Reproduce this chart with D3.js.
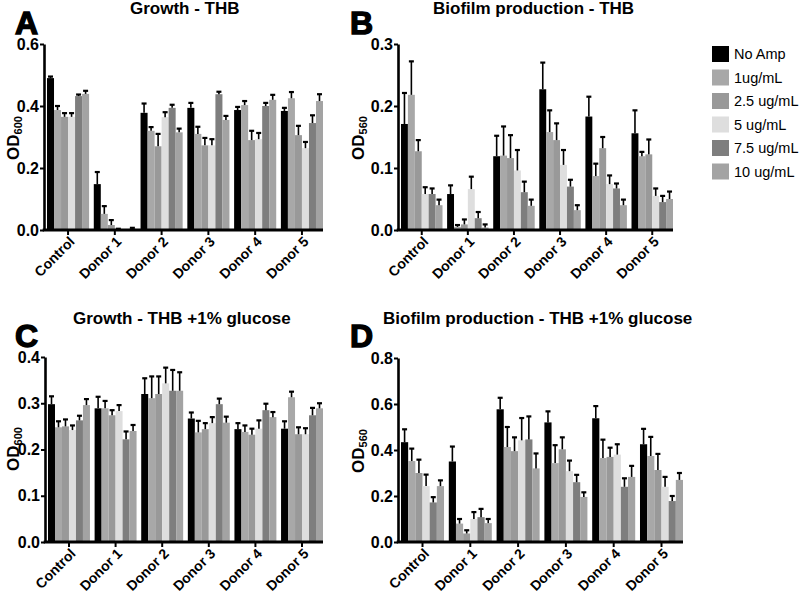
<!DOCTYPE html>
<html lang="en">
<head>
  <meta charset="UTF-8">
  <title>Growth and biofilm - THB</title>
  <script src="https://d3js.org/d3.v7.min.js"></script>
  <style>
    body { margin: 0; background: #fff; }
    svg { display: block; font-family: "Liberation Sans", Arial, sans-serif; }
    .axis path, .axis line { stroke: #000; }
    .axis text { font-size: 16px; font-weight: bold; fill: #000; }
    .title { font-size: 17px; font-weight: bold; }
    .letter { font-size: 32px; font-weight: bold; stroke: #000; stroke-width: 1.4px; }
    .legend text { font-size: 14.5px; }
  </style>
</head>
<body>
<div id="chart"></div>
<script>
const groups = ['Control', 'Donor 1', 'Donor 2', 'Donor 3', 'Donor 4', 'Donor 5'];
const doses = ['No Amp', '1ug/mL', '2.5 ug/mL', '5 ug/mL', '7.5 ug/mL', '10 ug/mL'];
const doseColors = ['#000000', '#a8a8a8', '#999999', '#dedede', '#7e7e7e', '#a3a3a3'];

// rows = groups, columns = doses
const growthTHB = [
  [0.490, 0.387, 0.365, 0.365, 0.432, 0.439],
  [0.148, 0.052, 0.016, 0.002, 0.001, 0.004],
  [0.378, 0.320, 0.270, 0.364, 0.394, 0.315],
  [0.394, 0.310, 0.273, 0.273, 0.438, 0.355],
  [0.387, 0.403, 0.290, 0.293, 0.400, 0.420],
  [0.384, 0.425, 0.306, 0.264, 0.345, 0.416]
];
const growthTHBErr = [
  [0.005, 0.013, 0.012, 0.012, 0.005, 0.010],
  [0.039, 0.025, 0.016, 0.002, 0.000, 0.003],
  [0.030, 0.012, 0.040, 0.016, 0.010, 0.012],
  [0.016, 0.023, 0.024, 0.020, 0.008, 0.013],
  [0.010, 0.013, 0.030, 0.020, 0.010, 0.016],
  [0.010, 0.020, 0.030, 0.020, 0.025, 0.022]
];
const biofilmTHB = [
  [0.171, 0.218, 0.127, 0.058, 0.058, 0.040],
  [0.058, 0.005, 0.009, 0.066, 0.019, 0.004],
  [0.119, 0.120, 0.116, 0.096, 0.061, 0.039],
  [0.227, 0.158, 0.145, 0.105, 0.070, 0.032],
  [0.183, 0.087, 0.132, 0.074, 0.067, 0.040],
  [0.156, 0.119, 0.122, 0.055, 0.045, 0.050]
];
const biofilmTHBErr = [
  [0.050, 0.054, 0.018, 0.011, 0.009, 0.009],
  [0.014, 0.003, 0.008, 0.020, 0.010, 0.005],
  [0.033, 0.047, 0.037, 0.033, 0.017, 0.010],
  [0.043, 0.035, 0.027, 0.024, 0.011, 0.008],
  [0.032, 0.020, 0.018, 0.014, 0.008, 0.009],
  [0.037, 0.007, 0.024, 0.012, 0.010, 0.012]
];
const growthGlc = [
  [0.298, 0.248, 0.250, 0.242, 0.263, 0.296],
  [0.289, 0.289, 0.274, 0.283, 0.222, 0.240],
  [0.320, 0.311, 0.320, 0.343, 0.327, 0.327],
  [0.267, 0.237, 0.244, 0.257, 0.298, 0.258],
  [0.244, 0.238, 0.232, 0.245, 0.285, 0.270],
  [0.245, 0.313, 0.233, 0.233, 0.274, 0.289]
];
const growthGlcErr = [
  [0.017, 0.013, 0.015, 0.010, 0.010, 0.013],
  [0.025, 0.016, 0.011, 0.013, 0.017, 0.013],
  [0.034, 0.047, 0.038, 0.034, 0.045, 0.040],
  [0.013, 0.025, 0.013, 0.013, 0.012, 0.013],
  [0.013, 0.014, 0.013, 0.018, 0.014, 0.011],
  [0.016, 0.012, 0.015, 0.013, 0.016, 0.011]
];
const biofilmGlc = [
  [0.434, 0.352, 0.300, 0.243, 0.172, 0.243],
  [0.350, 0.080, 0.037, 0.100, 0.108, 0.082],
  [0.577, 0.413, 0.395, 0.442, 0.446, 0.320],
  [0.520, 0.343, 0.403, 0.308, 0.260, 0.196],
  [0.538, 0.365, 0.370, 0.380, 0.240, 0.283],
  [0.425, 0.374, 0.313, 0.240, 0.178, 0.270]
];
const biofilmGlcErr = [
  [0.056, 0.054, 0.058, 0.050, 0.023, 0.025],
  [0.065, 0.020, 0.014, 0.030, 0.036, 0.018],
  [0.050, 0.087, 0.060, 0.097, 0.100, 0.065],
  [0.048, 0.078, 0.052, 0.046, 0.032, 0.020],
  [0.053, 0.080, 0.040, 0.045, 0.037, 0.048],
  [0.067, 0.083, 0.070, 0.043, 0.022, 0.030]
];

const ticksA = [0, 0.2, 0.4, 0.6];
const ticksB = [0, 0.1, 0.2, 0.3];
const ticksC = [0, 0.1, 0.2, 0.3, 0.4];
const ticksD = [0, 0.2, 0.4, 0.6, 0.8];

const panels = [
  { letter: 'A', title: 'Growth - THB', sub: '600', values: growthTHB, errors: growthTHBErr, ticks: ticksA,
    x0: 44, x1: 323, top: 44, bot: 230, titleX: 130, titleY: 14, letterX: 15, letterY: 34, labX: 19, labY: 138 },
  { letter: 'B', title: 'Biofilm production - THB', sub: '560', values: biofilmTHB, errors: biofilmTHBErr, ticks: ticksB,
    x0: 398, x1: 673, top: 44, bot: 230, titleX: 433, titleY: 14, letterX: 350, letterY: 34, labX: 364, labY: 138 },
  { letter: 'C', title: 'Growth - THB +1% glucose', sub: '600', values: growthGlc, errors: growthGlcErr, ticks: ticksC,
    x0: 45, x1: 323, top: 357, bot: 542, titleX: 73, titleY: 324, letterX: 15, letterY: 347, labX: 19, labY: 449 },
  { letter: 'D', title: 'Biofilm production - THB +1% glucose', sub: '560', values: biofilmGlc, errors: biofilmGlcErr, ticks: ticksD,
    x0: 398, x1: 683, top: 358, bot: 542, titleX: 383, titleY: 324, letterX: 350, letterY: 347, labX: 364, labY: 451 }
];

const svg = d3.select('#chart').append('svg').attr('width', 800).attr('height', 596);

function drawPanel(p) {
  const yMax = p.ticks[p.ticks.length - 1];
  const x = d3.scaleBand().domain(groups).range([p.x0 + 3, p.x1]).paddingInner(0.1);
  const xs = d3.scaleBand().domain(doses).range([0, x.bandwidth()]);
  const y = d3.scaleLinear().domain([0, yMax]).range([p.bot, p.top]);
  const g = svg.append('g');

  groups.forEach((grp, gi) => {
    const rows = doses.map((d, i) => ({ dose: d, i, v: p.values[gi][i], e: p.errors[gi][i] }));
    const gg = g.append('g').attr('transform', `translate(${x(grp)},0)`);
    gg.selectAll('rect').data(rows).join('rect')
      .attr('x', d => xs(d.dose))
      .attr('width', xs.bandwidth())
      .attr('y', d => y(d.v))
      .attr('height', d => y(0) - y(d.v))
      .attr('fill', d => doseColors[d.i]);
    const eb = gg.selectAll('g.err').data(rows.filter(d => d.e > 0)).join('g').attr('class', 'err');
    eb.append('line')
      .attr('x1', d => xs(d.dose) + xs.bandwidth() / 2).attr('x2', d => xs(d.dose) + xs.bandwidth() / 2)
      .attr('y1', d => y(d.v)).attr('y2', d => y(d.v + d.e))
      .attr('stroke', '#000').attr('stroke-width', 1.6);
    eb.append('line')
      .attr('x1', d => xs(d.dose) + xs.bandwidth() / 2 - 2.5).attr('x2', d => xs(d.dose) + xs.bandwidth() / 2 + 2.5)
      .attr('y1', d => y(d.v + d.e)).attr('y2', d => y(d.v + d.e))
      .attr('stroke', '#000').attr('stroke-width', 2.2);
  });

  // y axis
  const ya = g.append('g').attr('class', 'axis').attr('transform', `translate(${p.x0},0)`)
    .call(d3.axisLeft(y).tickValues(p.ticks).tickFormat(d3.format('.1f')).tickSize(4).tickSizeOuter(0).tickPadding(1));
  ya.select('.domain').attr('stroke-width', 2.6);
  ya.selectAll('.tick line').attr('stroke-width', 2);

  // x axis
  const xa = g.append('g').attr('class', 'axis').attr('transform', `translate(0,${p.bot})`)
    .call(d3.axisBottom(x).tickSize(5).tickSizeOuter(0));
  xa.select('.domain').remove();
  xa.selectAll('.tick line').attr('stroke-width', 2);
  xa.selectAll('.tick text')
    .attr('x', 0).attr('y', 0).attr('dy', '0.35em')
    .attr('transform', 'translate(4,9) rotate(-45)')
    .style('text-anchor', 'end')
    .style('font-size', '14px');
  g.append('line')
    .attr('x1', p.x0 - 1.3).attr('x2', p.x1)
    .attr('y1', p.bot).attr('y2', p.bot)
    .attr('stroke', '#000').attr('stroke-width', 3);

  // y label
  const lab = g.append('text')
    .attr('transform', `translate(${p.labX},${p.labY}) rotate(-90)`)
    .attr('text-anchor', 'middle')
    .style('font-size', '17px').style('font-weight', 'bold');
  lab.append('tspan').text('OD');
  lab.append('tspan').attr('dy', '0.3em').style('font-size', '11px').text(p.sub);

  g.append('text').attr('class', 'title').attr('x', p.titleX).attr('y', p.titleY).text(p.title);
  g.append('text').attr('class', 'letter').attr('x', p.letterX).attr('y', p.letterY).text(p.letter);
}

panels.forEach(drawPanel);

// legend
const legend = svg.append('g').attr('class', 'legend').attr('transform', 'translate(712,46)');
const li = legend.selectAll('g').data(doses).join('g')
  .attr('transform', (d, i) => `translate(0,${i * 23.5})`);
li.append('rect').attr('width', 17).attr('height', 16).attr('fill', (d, i) => doseColors[i]);
li.append('text').attr('x', 22).attr('y', 13).text(d => d);
</script>
</body>
</html>
